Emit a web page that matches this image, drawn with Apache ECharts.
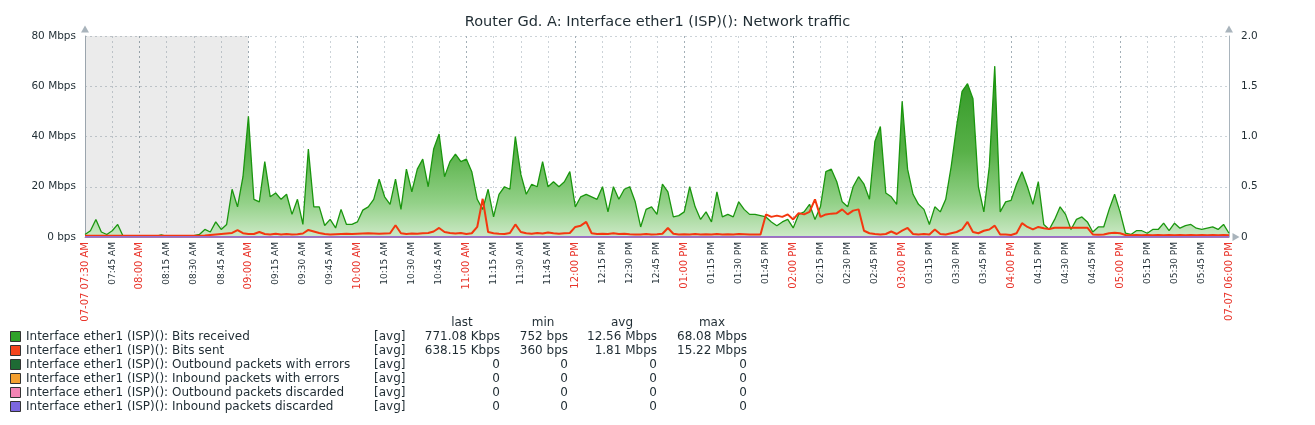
<!DOCTYPE html>
<html>
<head>
<meta charset="utf-8">
<script src="https://cdn.jsdelivr.net/npm/echarts@6/dist/echarts.min.js"></script>
<style>
    html, body {margin: 0; padding: 0; background: #ffffff;}
    #main {width: 1315px; height: 425px;}
</style>
</head>
<body>
<div id="main"></div>
<script>
// minutes since 07:30, one sample every 3 minutes
var stepMinutes = 3;
var offHoursEnd = 90; // 09:00, gray zone before it

// Bits received, Mbps
var bitsReceived = [
    1, 2.5, 7, 2, 1, 2.5, 5, 0.3, 0.2, 0.2,
    0.2, 0.2, 0.2, 0.2, 0.8, 0.2, 0.2, 0.2, 0.3, 0.4,
    0.5, 1, 3, 2, 6, 3, 5, 19, 12, 24,
    48, 15, 14, 30, 16, 17.5, 15, 17, 9, 15,
    5, 35, 12, 12, 4.6, 7, 3.6, 11, 5, 5,
    6, 10.7, 12, 15, 23, 16, 13, 23, 11, 27,
    18, 27, 31, 20, 35, 41, 24, 30, 33, 30,
    31, 26, 15, 11, 19, 8, 17, 20, 19, 40,
    25, 17, 21, 20, 30, 20, 22, 20, 22, 26,
    12, 16, 17, 16, 15, 20, 10, 20, 15, 19,
    20, 14, 4, 11, 12, 9, 21, 18, 8, 8.5,
    10, 20, 12, 7, 10, 6, 18, 8, 9, 8,
    14, 11, 9, 9, 8.5, 8, 6, 4.5, 6, 7,
    3.6, 9, 10, 13, 7, 12, 26, 27, 22, 14,
    12, 20, 24, 21, 15, 38, 44, 17.5, 16, 13,
    54, 27, 17, 13, 11, 5, 12, 10, 15, 28,
    44, 58, 61, 55, 20, 10, 28, 68, 10, 14,
    14.6, 21, 26, 20, 13, 22, 5, 3, 7, 12,
    9, 3, 7, 8, 6, 2, 4, 4, 11, 17,
    10, 1.5, 1, 2.5, 2.5, 1.5, 3, 3, 5.5, 2.5,
    5.5, 3.5, 4.5, 5, 3.5, 3, 3.5, 4, 3, 5,
    1.5
];

// Bits sent, Mbps
var bitsSent = [
    0.5, 0.5, 0.5, 0.5, 0.5, 0.5, 0.5, 0.5, 0.5, 0.5,
    0.5, 0.5, 0.5, 0.5, 0.5, 0.5, 0.5, 0.5, 0.5, 0.5,
    0.5, 0.5, 0.6, 0.8, 1.0, 1.2, 1.4, 1.6, 2.7, 1.5,
    1.2, 1.2, 2, 1.2, 1, 1.3, 1, 1.2, 1, 1.1,
    1.4, 2.8, 2.2, 1.6, 1.2, 1, 1.1, 1.2, 1.3, 1.2,
    1.3, 1.4, 1.5, 1.4, 1.3, 1.4, 1.5, 4.7, 1.5, 1.2,
    1.4, 1.3, 1.5, 1.6, 2.2, 3.6, 2, 1.6, 1.4, 1.6,
    1.2, 1.5, 4, 15.2, 2, 1.5, 1.3, 1.2, 1.6, 5,
    2, 1.5, 1.3, 1.6, 1.4, 1.8, 1.5, 1.3, 1.5, 1.6,
    4, 4.5, 6, 1.5, 1.2, 1.3, 1.2, 1.5, 1.2, 1.3,
    1.1, 1, 1, 1.2, 1, 1.1, 1.3, 3.6, 1.3, 1,
    1.1, 1, 1.2, 1, 1.1, 1, 1.2, 1, 1.1, 1,
    1.2, 1.1, 1, 1, 1, 9, 8, 8.5, 8, 9,
    7, 9.5, 9, 10, 15, 8, 9, 9.3, 9.5, 11,
    9, 10.5, 11, 2.5, 1.5, 1.2, 1, 1.2, 2.2, 1.2,
    2.5, 3.6, 1.2, 1, 1.2, 1, 3, 1.2, 1, 1.5,
    2, 3, 6, 2, 1.5, 2.5, 3, 4.5, 1, 1,
    0.8, 1.5, 5.5, 4, 3, 4, 3.5, 3.2, 3.7, 3.7,
    3.7, 3.7, 3.7, 3.7, 3.7, 1, 0.9, 1, 1.5, 1.7,
    1.5, 0.8, 0.7, 0.8, 0.7, 0.8, 0.7, 0.8, 0.7, 0.8,
    0.7, 0.8, 0.7, 0.8, 0.7, 0.8, 0.7, 0.8, 0.7, 0.8,
    0.7
];

// the four packet counters stay at 0 for the whole period
var zeroMinutes = [0, 630];
var zeroValues = [0, 0];

var xTickLabels = [
    '07-07 07:30 AM', '07:45 AM', '08:00 AM', '08:15 AM', '08:30 AM', '08:45 AM',
    '09:00 AM', '09:15 AM', '09:30 AM', '09:45 AM', '10:00 AM', '10:15 AM',
    '10:30 AM', '10:45 AM', '11:00 AM', '11:15 AM', '11:30 AM', '11:45 AM',
    '12:00 PM', '12:15 PM', '12:30 PM', '12:45 PM', '01:00 PM', '01:15 PM',
    '01:30 PM', '01:45 PM', '02:00 PM', '02:15 PM', '02:30 PM', '02:45 PM',
    '03:00 PM', '03:15 PM', '03:30 PM', '03:45 PM', '04:00 PM', '04:15 PM',
    '04:30 PM', '04:45 PM', '05:00 PM', '05:15 PM', '05:30 PM', '05:45 PM',
    '07-07 06:00 PM'
];
var yLeftLabels = ['0 bps', '20 Mbps', '40 Mbps', '60 Mbps', '80 Mbps'];
var yRightLabels = ['0', '0.5', '1.0', '1.5', '2.0'];

var legendNames = [
    'Interface ether1 (ISP)(): Bits received',
    'Interface ether1 (ISP)(): Bits sent',
    'Interface ether1 (ISP)(): Outbound packets with errors',
    'Interface ether1 (ISP)(): Inbound packets with errors',
    'Interface ether1 (ISP)(): Outbound packets discarded',
    'Interface ether1 (ISP)(): Inbound packets discarded'
];
var legendColors = ['#2fa22a', '#f4441c', '#1e6b34', '#f5a030', '#f384b4', '#7b66e0'];
var legendLast = ['771.08 Kbps', '638.15 Kbps', '0', '0', '0', '0'];
var legendMin = ['752 bps', '360 bps', '0', '0', '0', '0'];
var legendAvg = ['12.56 Mbps', '1.81 Mbps', '0', '0', '0', '0'];
var legendMax = ['68.08 Mbps', '15.22 Mbps', '0', '0', '0', '0'];

var FONT = 'DejaVu Sans';
var TEXT = '#1f2c33';

function toPairs(values) {
    var out = [];
    for (var i = 0; i < values.length; i++) {
        out.push([i * stepMinutes, values[i]]);
    }
    return out;
}

function zeroPairs() {
    var out = [];
    for (var i = 0; i < zeroMinutes.length; i++) {
        out.push([zeroMinutes[i], zeroValues[i]]);
    }
    return out;
}

function buildLegend() {
    var els = [];
    var headY = 323, rowY = 337, rowH = 14;
    var font = '12px ' + FONT;
    var heads = [['last', 462], ['min', 543], ['avg', 622], ['max', 712]];
    heads.forEach(function (h) {
        els.push({type: 'text', x: h[1], y: headY,
            style: {text: h[0], font: font, fill: TEXT, textAlign: 'center', textVerticalAlign: 'middle'}});
    });
    for (var i = 0; i < legendNames.length; i++) {
        var y = rowY + i * rowH;
        els.push({type: 'rect', shape: {x: 10.5, y: y - 5.5, width: 10, height: 10},
            style: {fill: legendColors[i], stroke: '#333', lineWidth: 1}});
        els.push({type: 'text', x: 26, y: y,
            style: {text: legendNames[i], font: font, fill: TEXT, textVerticalAlign: 'middle'}});
        els.push({type: 'text', x: 374, y: y,
            style: {text: '[avg]', font: font, fill: TEXT, textVerticalAlign: 'middle'}});
        var cols = [[legendLast, 500], [legendMin, 568], [legendAvg, 657], [legendMax, 747]];
        cols.forEach(function (c) {
            els.push({type: 'text', x: c[1], y: y,
                style: {text: c[0][i], font: font, fill: TEXT, textAlign: 'right', textVerticalAlign: 'middle'}});
        });
    }
    return els;
}

var chart = echarts.init(document.getElementById('main'));

var gridMinor = '#ccd3d8';
var gridMajor = '#a3afb7';
var axisColor = '#a9b4bc';

var zeroSeries = [2, 3, 4, 5].map(function (k) {
    return {
        name: legendNames[k],
        type: 'line',
        data: zeroPairs(),
        symbol: 'none',
        lineStyle: {color: legendColors[k], width: 1.5},
        z: 3 + k
    };
});

var option = {
    animation: false,
    backgroundColor: '#ffffff',
    title: {
        text: 'Router Gd. A: Interface ether1 (ISP)(): Network traffic',
        left: 'center',
        top: 10,
        textStyle: {fontFamily: FONT, fontSize: 14.5, fontWeight: 'normal', color: TEXT}
    },
    grid: {left: 85, right: 86, top: 36, bottom: 188},
    xAxis: {
        type: 'value',
        min: 0,
        max: 630,
        interval: 15,
        axisLine: {
            lineStyle: {color: axisColor},
            symbol: ['none', 'triangle'],
            symbolSize: [8, 7],
            symbolOffset: [0, 7]
        },
        axisTick: {show: false},
        splitLine: {
            show: true,
            lineStyle: {color: [gridMinor, gridMinor, gridMajor, gridMinor], type: [2, 3], width: 1}
        },
        axisLabel: {
            rotate: 90,
            margin: 5,
            showMinLabel: true,
            showMaxLabel: true,
            fontFamily: FONT,
            fontSize: 9,
            color: TEXT,
            formatter: function (val) {
                var label = xTickLabels[Math.round(val / 15)];
                if (label.indexOf(':00 ') >= 0 || label.indexOf('07-07') === 0) {
                    return '{h|' + label + '}';
                }
                return label;
            },
            rich: {h: {color: '#e8342a', fontFamily: FONT, fontSize: 10}}
        }
    },
    yAxis: [
        {
            type: 'value',
            min: 0,
            max: 80,
            interval: 20,
            axisLine: {show: true, lineStyle: {color: axisColor},
                symbol: ['none', 'triangle'], symbolSize: [8, 7], symbolOffset: [0, 7]},
            axisTick: {show: false},
            splitLine: {lineStyle: {color: gridMinor, type: [2, 3]}},
            axisLabel: {
                margin: 9,
                fontFamily: FONT,
                fontSize: 10.5,
                color: TEXT,
                formatter: function (val) { return yLeftLabels[Math.round(val / 20)]; }
            }
        },
        {
            type: 'value',
            min: 0,
            max: 2,
            interval: 0.5,
            position: 'right',
            axisLine: {show: true, lineStyle: {color: axisColor},
                symbol: ['none', 'triangle'], symbolSize: [8, 7], symbolOffset: [0, 7]},
            axisTick: {show: false},
            splitLine: {show: false},
            axisLabel: {
                margin: 12,
                fontFamily: FONT,
                fontSize: 10.5,
                color: TEXT,
                formatter: function (val) { return yRightLabels[Math.round(val / 0.5)]; }
            }
        }
    ],
    series: [
        {
            name: legendNames[0],
            type: 'line',
            data: toPairs(bitsReceived),
            symbol: 'none',
            lineStyle: {color: '#1a960e', width: 1.3},
            areaStyle: {
                opacity: 1,
                color: new echarts.graphic.LinearGradient(0, 0, 0, 1, [
                    {offset: 0, color: '#2e9522'},
                    {offset: 0.5, color: '#58b148'},
                    {offset: 0.8, color: '#93d188'},
                    {offset: 1, color: '#cde9c7'}
                ])
            },
            markArea: {
                silent: true,
                itemStyle: {color: 'rgba(0,0,0,0.08)'},
                data: [[{xAxis: 0}, {xAxis: offHoursEnd}]]
            },
            z: 2
        },
        {
            name: legendNames[1],
            type: 'line',
            data: toPairs(bitsSent),
            symbol: 'none',
            lineStyle: {color: '#f4370f', width: 2},
            z: 3
        }
    ].concat(zeroSeries),
    graphic: buildLegend()
};

chart.setOption(option);
</script>
</body>
</html>
